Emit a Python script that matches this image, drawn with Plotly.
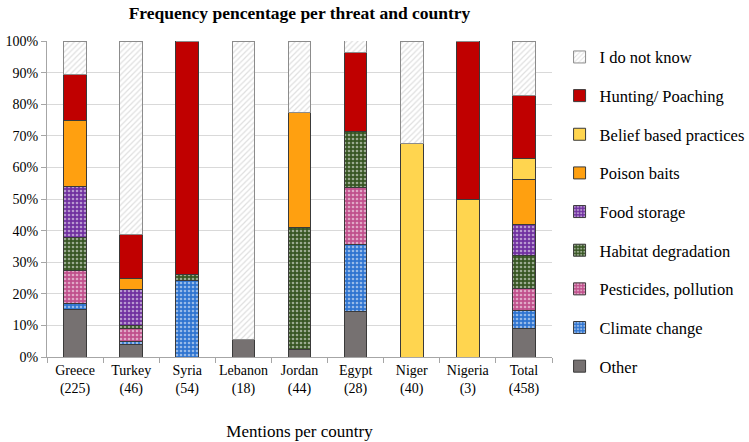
import plotly.graph_objects as go

countries = ["Greece<br>(225)", "Turkey<br>(46)", "Syria<br>(54)", "Lebanon<br>(18)", "Jordan<br>(44)",
             "Egypt<br>(28)", "Niger<br>(40)", "Nigeria<br>(3)", "Total<br>(458)"]

other = [14.9, 3.8, 0, 5.6, 2.3, 14.3, 0, 0, 9.1]
climate_change = [2.1, 1.0, 24.1, 0, 0, 21.4, 0, 0, 5.6]
pesticides = [10.3, 4.1, 0, 0, 0, 17.9, 0, 0, 6.9]
habitat = [10.6, 1.2, 2.0, 0, 38.6, 17.9, 0, 0, 10.5]
food_storage = [16.2, 11.3, 0, 0, 0, 0, 0, 0, 9.7]
poison_baits = [20.8, 3.5, 0, 0, 36.4, 0, 0, 0, 14.4]
belief = [0, 0, 0, 0, 0, 0, 67.5, 50.0, 6.5]
hunting = [14.6, 13.8, 73.9, 0, 0, 25.0, 0, 50.0, 19.9]
dont_know = [10.5, 61.3, 0, 94.4, 22.7, 3.6, 32.5, 0, 17.4]

series = [
    ("Other", other, "#767171", None, None),
    ("Climate change", climate_change, "#2F74D0", ".", "white"),
    ("Pesticides, pollution", pesticides, "#C0508C", ".", "white"),
    ("Habitat degradation", habitat, "#375623", ".", "white"),
    ("Food storage", food_storage, "#7030A0", ".", "white"),
    ("Poison baits", poison_baits, "#FFA010", None, None),
    ("Belief based practices", belief, "#FFD54F", None, None),
    ("Hunting/ Poaching", hunting, "#C00000", None, None),
    ("I do not know", dont_know, "white", "/", "#BFBFBF"),
]

font_family = "Liberation Serif, Times New Roman, serif"
fig = go.Figure()
n = len(series)
for i, (name, vals, color, shape, fg) in enumerate(series):
    marker = dict(color=color, line=dict(color="#3A3A3A" if shape != "/" else "#8C8C8C", width=1))
    if shape:
        marker["pattern"] = dict(shape=shape, fgcolor=fg, fillmode="overlay", size=4,
                                 solidity=0.35 if shape == "." else 0.3)
    fig.add_trace(go.Bar(x=countries, y=vals, name=name, marker=marker, legendgroup=str(i),
                         legendrank=n - i))

fig.update_layout(
    barmode="stack",
    bargap=0.595,
    width=749, height=442,
    margin=dict(l=47, r=197, t=41, b=85, autoexpand=False),
    plot_bgcolor="white", paper_bgcolor="white",
    font=dict(family=font_family, size=14, color="black"),
    title=dict(text="<b>Frequency pencentage per threat and country</b>", x=0.5, xref="paper",
               y=0.972, yref="container", yanchor="middle", xanchor="center",
               font=dict(family=font_family, size=17.5, color="black")),
    legend=dict(x=1.015, y=1.004, xanchor="left", yanchor="top", traceorder="grouped",
                tracegroupgap=14.2, font=dict(family=font_family, size=16.5, color="black"), itemwidth=30,
                maxheight=440),
    showlegend=True,
)
fig.update_xaxes(showline=True, linecolor="#A6A6A6", linewidth=1, ticks="outside", tickson="boundaries",
                 ticklen=5, tickcolor="#A6A6A6", showgrid=False, range=[-0.5, 8.5], tickangle=0,
                 automargin=False,
                 title=dict(text="Mentions per country", standoff=29,
                            font=dict(family=font_family, size=17, color="black")),
                 tickfont=dict(family=font_family, size=14, color="black"))
fig.update_yaxes(range=[0, 100], dtick=10, ticksuffix="%", showgrid=True, gridcolor="#D9D9D9",
                 showline=True, linecolor="#A6A6A6", ticks="outside", ticklen=5, tickcolor="#A6A6A6",
                 automargin=False,
                 tickfont=dict(family=font_family, size=14, color="black"), zeroline=False)
fig.write_html("out.html", config={"displayModeBar": False},
               post_script="document.body.style.margin='0px';")
